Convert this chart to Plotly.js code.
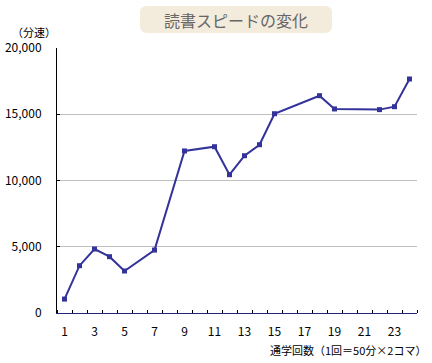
<!DOCTYPE html>
<html><head><meta charset="utf-8">
<script src="https://cdn.plot.ly/plotly-3.0.1.min.js"></script>
<style>html,body{margin:0;padding:0;background:#fff;}#c{width:432px;height:363px;}</style>
</head><body><div id="c"></div>
<script>
const sessions = [1,2,3,4,5,7,9,11,12,13,14,15,18,19,22,23,24];
const speeds = [1050,3570,4830,4250,3170,4750,12230,12550,10440,11870,12700,15040,16400,15400,15350,15570,17660];
const xLabels = ['1','3','5','7','9','11','13','15','17','19','21','23'];
const xLabelVals = [1,3,5,7,9,11,13,15,17,19,21,23];
const yTicks = [0,5000,10000,15000,20000];
const chartTitle = '読書スピードの変化';
const yUnit = '（分速）';
const xTitle = '通学回数（1回＝50分×2コマ）';

const L=57, T=48, W=360, H=265;
const px = p => (p - L)/W;
const py = p => (T + H - p)/H;
function roundRect(x0,y0,x1,y1,r){
  return `M${px(x0+r)},${py(y0)} L${px(x1-r)},${py(y0)} Q${px(x1)},${py(y0)} ${px(x1)},${py(y0+r)} L${px(x1)},${py(y1-r)} Q${px(x1)},${py(y1)} ${px(x1-r)},${py(y1)} L${px(x0+r)},${py(y1)} Q${px(x0)},${py(y1)} ${px(x0)},${py(y1-r)} L${px(x0)},${py(y0+r)} Q${px(x0)},${py(y0)} ${px(x0+r)},${py(y0)} Z`;
}
const fontFam = '"Liberation Sans Narrow", "Noto Sans CJK JP", sans-serif';
const data = [{
  x: sessions, y: speeds, type:'scatter', mode:'lines+markers',
  line:{color:'#333399', width:2},
  marker:{symbol:'square', size:5, color:'#333399'},
  hoverinfo:'skip'
}];
const layout = {
  width:432, height:363,
  margin:{l:L, r:432-L-W, t:T, b:363-T-H, pad:0},
  paper_bgcolor:'#fff', plot_bgcolor:'#fff',
  showlegend:false,
  font:{family:fontFam, size:12, color:'#000'},
  xaxis:{
    range:[0.5,24.5], tickvals:xLabelVals, ticktext:xLabels,
    ticks:'', showgrid:false, zeroline:false,
    showline:true, linecolor:'#22227a', linewidth:1,
    ticklabelstandoff:8,
    minor:{tick0:0.5, dtick:1, ticks:'inside', ticklen:3, tickcolor:'#000', showgrid:false},
    tickfont:{family:fontFam, size:12}
  },
  yaxis:{
    range:[0,20000], tickvals:yTicks, tickformat:',',
    ticks:'inside', ticklen:3, tickcolor:'#000',
    showgrid:true, gridcolor:'#c0c0c0', gridwidth:1,
    zeroline:false, showline:true, linecolor:'#000', linewidth:1,
    ticklabelstandoff:12,
    tickfont:{family:fontFam, size:12}
  },
  shapes:[{
    type:'path', xref:'paper', yref:'paper', path: roundRect(140,6,332,33,7),
    fillcolor:'#f3ecdc', line:{width:0}, layer:'below'
  }],
  annotations:[
    {text:chartTitle, xref:'paper', yref:'paper', x:px(236), y:py(20), xanchor:'center', yanchor:'middle', showarrow:false,
     font:{family:'"Noto Sans CJK JP", sans-serif', size:16, color:'#666'}},
    {text:yUnit, xref:'paper', yref:'paper', x:px(10), y:py(32), xanchor:'left', yanchor:'middle', showarrow:false,
     font:{family:'"Noto Sans CJK JP", sans-serif', size:11, color:'#000'}},
    {text:xTitle, xref:'paper', yref:'paper', x:px(428), y:py(350), xanchor:'right', yanchor:'middle', showarrow:false,
     font:{family:'"Noto Sans CJK JP", sans-serif', size:11, color:'#000'}}
  ]
};
Plotly.newPlot('c', data, layout, {displayModeBar:false, staticPlot:true});
</script></body></html>
